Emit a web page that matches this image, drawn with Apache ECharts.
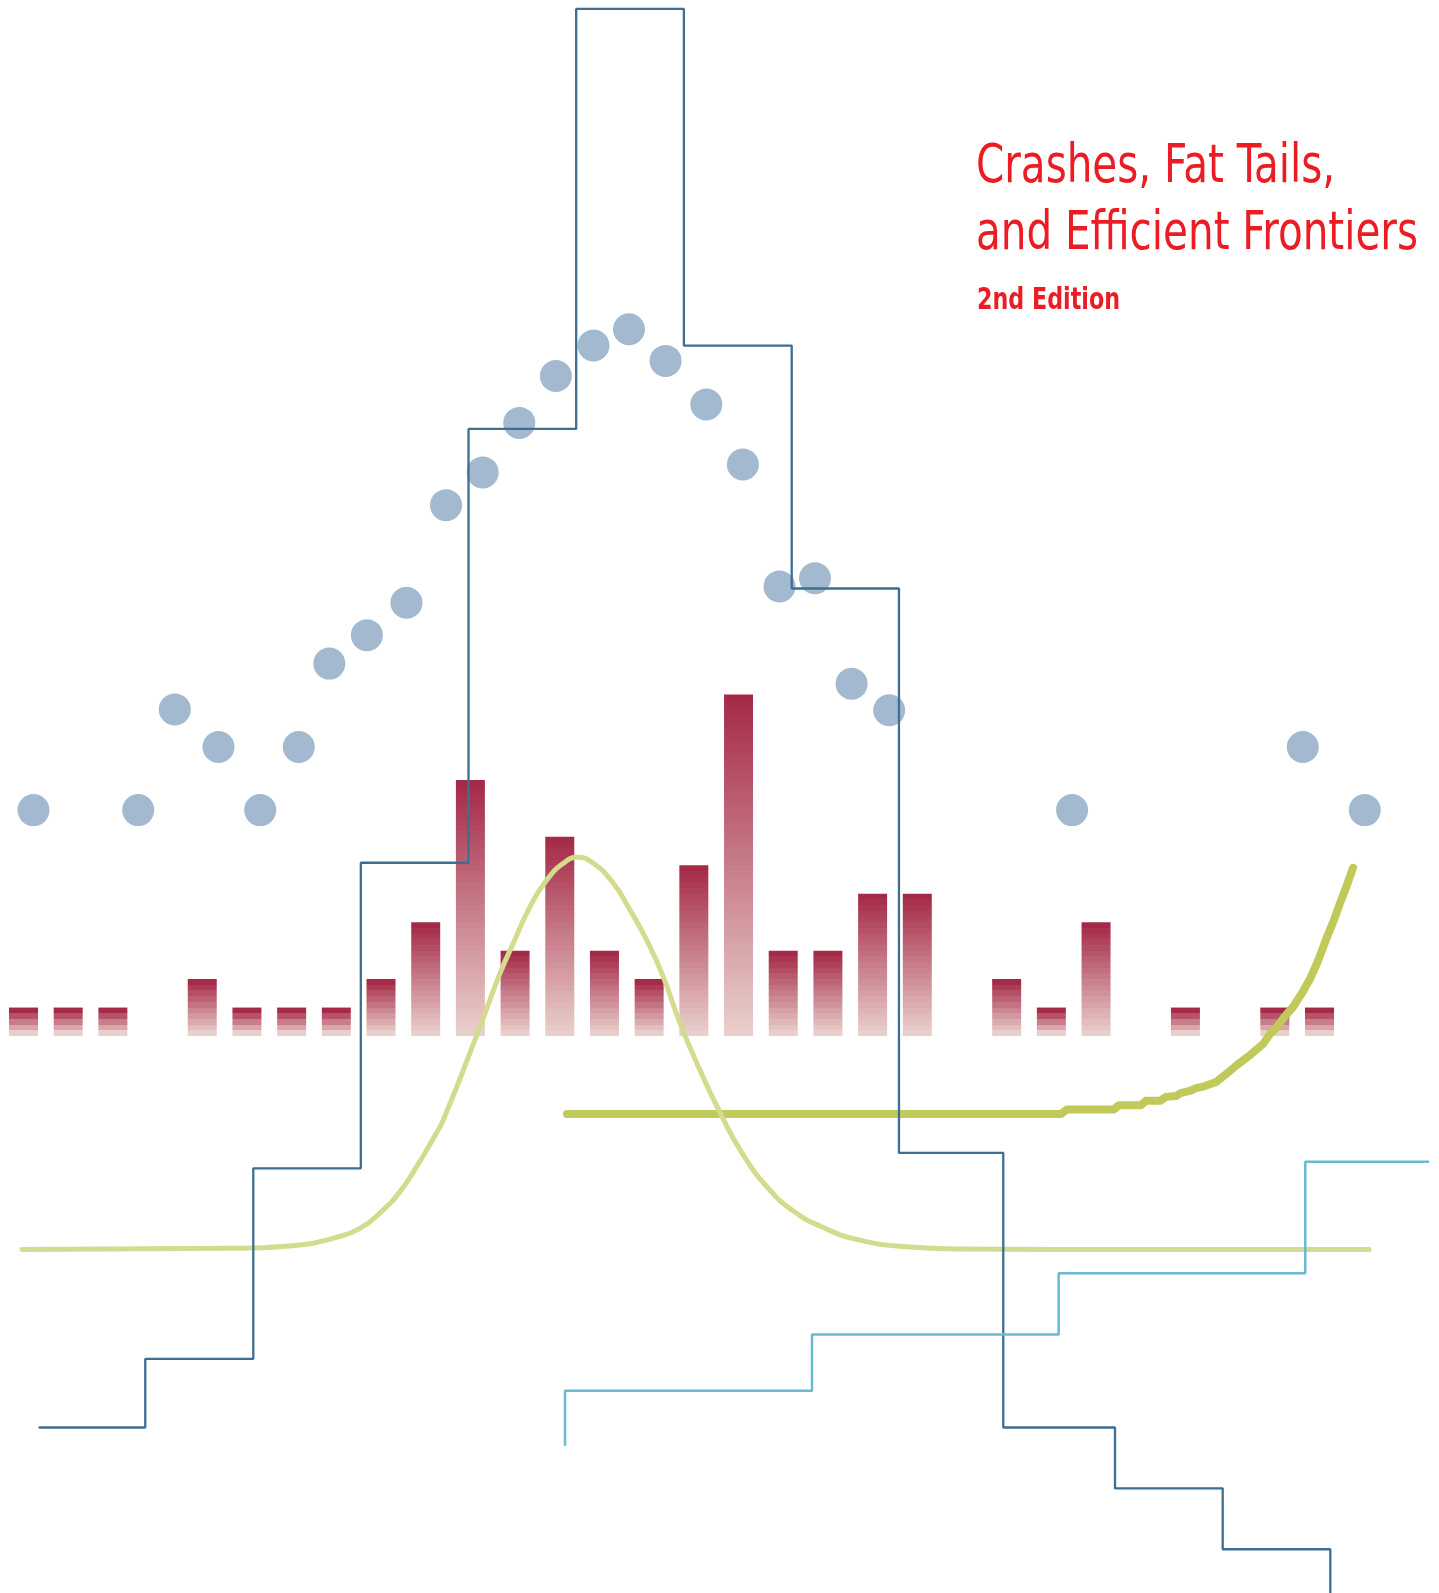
<!DOCTYPE html>
<html><head><meta charset="utf-8">
<script src="https://cdn.jsdelivr.net/npm/echarts@6/dist/echarts.min.js"></script>
<style>html,body{margin:0;padding:0;background:#fff}#c{width:1439px;height:1593px}</style>
</head><body><div id="c"></div>
<script>
// ---- data (x in bar-slot units, y in bar-count units) ----
const slots = [0,1,2,3,4,5,6,7,8,9,10,11,12,13,14,15,16,17,18,19,20,21,22,23,24,25,26,27,28,29];
const counts = [1,1,1,0,2,1,1,1,2,4,9,3,7,3,2,6,12,3,3,5,5,0,2,1,4,0,1,0,1,1];

const dotX = [0.224,2.567,3.386,4.363,5.297,6.160,6.843,7.684,8.570,9.456,10.275,11.094,11.913,12.754,13.549,14.368,15.279,16.097,16.917,17.711,18.530,19.371,23.464,28.626,30.013];
const dotY = [7.94,7.94,11.48,10.16,7.94,10.16,13.09,14.09,15.23,18.66,19.81,21.55,23.20,24.27,24.84,23.73,22.20,20.09,15.80,16.09,12.38,11.45,7.94,10.16,7.94];

const stepX = [0.338,2.725,5.142,7.548,9.958,12.367,14.777,17.190,19.590,21.924,24.424,26.834,29.242];
const stepY = [-13.76,-11.35,-4.65,6.09,21.34,36.10,24.27,15.73,-4.11,-13.76,-15.90,-18.04,-20.5];

const lightX = [12.117,17.644,23.164,28.682,31.450];
const lightY = [-14.40,-12.47,-10.49,-8.34,-4.42];

const bellX = [-0.034,4.621,6.187,6.925,7.530,8.044,8.425,8.798,9.170,9.393,10.215,10.662,10.960,11.333,11.707,12.079,12.392,12.750,13.198,13.571,13.945,14.316,14.690,15.137,15.623,16.077,16.630,17.225,17.897,18.644,19.763,20.955,22.969,30.108];
const bellY = [-7.50,-7.46,-7.35,-7.11,-6.76,-6.12,-5.47,-4.59,-3.60,-2.95,0.33,2.20,3.26,4.54,5.48,6.07,6.28,6.07,5.37,4.43,3.37,2.08,0.45,-1.20,-2.81,-4.11,-5.29,-6.15,-6.73,-7.15,-7.41,-7.49,-7.50,-7.50];

const tailX = [12.161,23.215,23.350,24.401,24.513,25.006,25.117,25.431,25.565,25.789,25.901,26.102,26.237,26.438,26.684,26.908,27.154,27.445,27.736,27.893,28.049,28.228,28.407,28.609,28.788,28.967,29.168,29.325,29.459,29.616,29.750];
const tailY = [-2.74,-2.74,-2.58,-2.58,-2.43,-2.43,-2.28,-2.28,-2.14,-2.11,-2.00,-1.93,-1.83,-1.76,-1.62,-1.34,-1.02,-0.67,-0.28,0.07,0.32,0.70,1.02,1.51,2.00,2.64,3.48,4.08,4.67,5.31,5.91];

const titleLines = ['Crashes, Fat Tails,', 'and Efficient Frontiers'];
const editionText = '2nd Edition';

// ---- styling helpers ----
const TOP = [165, 42, 71], BOT = [233, 207, 204];
function lerpColor(t){
  const c = TOP.map((v,i)=>Math.round(v + (BOT[i]-v)*t));
  return 'rgb(' + c.join(',') + ')';
}
function bandGradient(n){
  const stops = [];
  for (let k = 0; k < n; k++){
    const c = lerpColor(n > 1 ? k/(n-1) : 0);
    stops.push({offset:k/n, color:c}, {offset:(k+1)/n, color:c});
  }
  return new echarts.graphic.LinearGradient(0,0,0,1,stops);
}
const zip = (a,b)=>a.map((v,i)=>[v,b[i]]);

const FAMILY = '"Liberation Sans Narrow", "DejaVu Sans Condensed", "Roboto", sans-serif';
const mctx = document.createElement('canvas').getContext('2d');
function measure(text, size, weight){
  mctx.font = weight + ' ' + size + 'px ' + FAMILY;
  return mctx.measureText(text).width;
}
const MAIN_SIZE = 54, ED_SIZE = 30;
const mainScale = 442 / measure(titleLines[1], MAIN_SIZE, 'normal');
const edScale = 143 / measure(editionText, ED_SIZE, 'bold');
const RED = '#ec1c24';

const chart = echarts.init(document.getElementById('c'), null, {renderer:'canvas'});
chart.setOption({
  animation:false,
  backgroundColor:'#ffffff',
  grid:{left:0,right:0,top:0,bottom:0,containLabel:false},
  xAxis:{type:'value',min:-0.5258,max:31.674,show:false},
  yAxis:{type:'value',min:-19.578,max:36.415,show:false},
  graphic:[
    {type:'text',x:976,y:168,scaleX:mainScale,z:100,style:{text:titleLines[0],fontSize:MAIN_SIZE,fontFamily:FAMILY,fontWeight:'normal',fill:RED,verticalAlign:'middle',align:'left'}},
    {type:'text',x:976,y:235,scaleX:mainScale,z:100,style:{text:titleLines[1],fontSize:MAIN_SIZE,fontFamily:FAMILY,fontWeight:'normal',fill:RED,verticalAlign:'middle',align:'left'}},
    {type:'text',x:977,y:301,scaleX:edScale,z:100,style:{text:editionText,fontSize:ED_SIZE,fontFamily:FAMILY,fontWeight:'bold',fill:RED,verticalAlign:'middle',align:'left'}}
  ],
  series:[
    {type:'bar',z:1,barWidth:29,silent:true,
      data:slots.filter(i=>counts[i]>0).map(i=>({value:[i,counts[i]],itemStyle:{color:bandGradient(counts[i]*5)}}))},
    {type:'line',z:2,silent:true,showSymbol:false,symbol:'none',data:zip(tailX,tailY),
      lineStyle:{color:'#c1c95a',width:8,cap:'round',join:'round'}},
    {type:'line',z:3,silent:true,showSymbol:false,symbol:'none',smooth:0.5,data:zip(bellX,bellY),
      lineStyle:{color:'#d4da8e',width:5,cap:'round',join:'round'}},
    {type:'scatter',z:4,silent:true,symbolSize:32,data:zip(dotX,dotY),itemStyle:{color:'#a3b9cf',opacity:1}},
    {type:'line',z:5,silent:true,showSymbol:false,symbol:'none',step:'end',data:zip(stepX,stepY),
      lineStyle:{color:'#3e6e91',width:2.3}},
    {type:'line',z:6,silent:true,showSymbol:false,symbol:'none',step:'start',data:zip(lightX,lightY),
      lineStyle:{color:'#6bb9d4',width:2.5}}
  ]
});
</script></body></html>
